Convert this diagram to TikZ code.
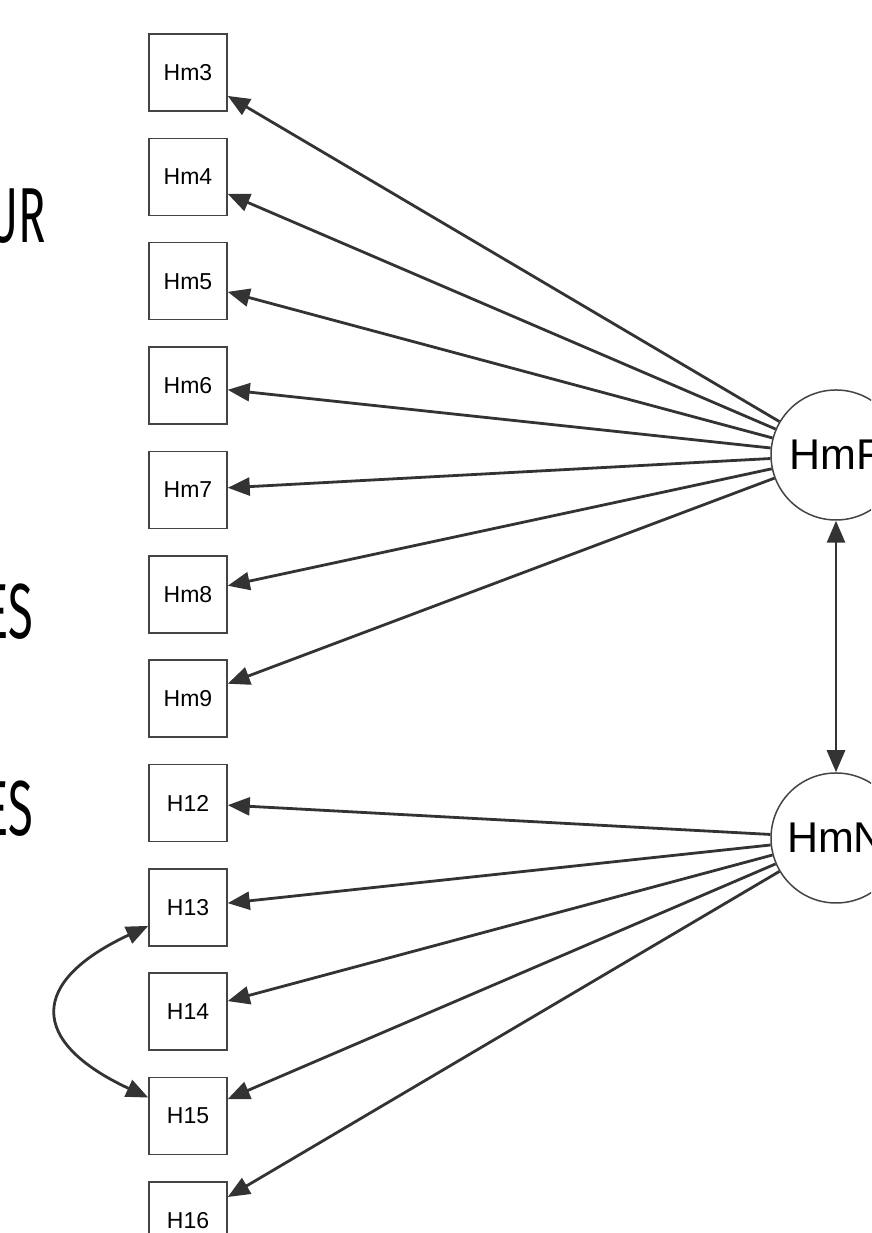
\documentclass[tikz,border=0pt]{standalone}
\usepackage{fontspec}
\setmainfont{Liberation Sans}
\newfontfamily\thinfont{Fira Sans}
\usetikzlibrary{arrows.meta}
\definecolor{edgecol}{HTML}{333333}
\definecolor{bordercol}{HTML}{444444}
\tikzset{
  obsbox/.style={draw=bordercol, line width=1.5pt, fill=white, minimum width=78pt, minimum height=77pt, inner sep=0pt, font=\fontsize{23}{27}\selectfont},
  latent/.style={draw=bordercol, circle, line width=1.5pt, fill=white, minimum size=130pt, inner sep=0pt, font=\fontsize{43}{50}\selectfont},
  load/.style={draw=edgecol, line width=2.8pt, -{Triangle[length=22pt,width=18pt]}, color=edgecol},
  cov/.style={draw=edgecol, line width=2.8pt, {Triangle[length=22pt,width=18pt]}-{Triangle[length=22pt,width=18pt]}, color=edgecol},
  sidetext/.style={anchor=base east, inner sep=0pt, font=\thinfont\fontsize{78}{80}\selectfont}
}
\begin{document}
\begin{tikzpicture}[x=1pt,y=1pt]
\useasboundingbox (0,0) rectangle (871,1233);
\fill[white] (0,0) rectangle (871,1233);
\clip (0,0) rectangle (871,1233);
% side texts
\node[sidetext] (t1) at (46,990) {\scalebox{0.58}[1]{UR}};
\node[sidetext] (t2) at (33,594) {\scalebox{0.58}[1]{ES}};
\node[sidetext] (t3) at (33,397) {\scalebox{0.58}[1]{ES}};
% latent variables
\node[latent] (HmF) at (836,778) {HmF};
\node[latent] (HmN) at (836,395) {HmN};
% observed boxes
\foreach \n/\k in {Hm3/0,Hm4/1,Hm5/2,Hm6/3,Hm7/4,Hm8/5,Hm9/6,H12/7,H13/8,H14/9,H15/10,H16/11}{
  \node[obsbox] (\n) at (188,{1160.5-104.36*\k}) {\n};
}
% loadings
\foreach \n in {Hm3,Hm4,Hm5,Hm6,Hm7,Hm8,Hm9}{
  \draw[load] (HmF) -- (\n);
}
\foreach \n in {H12,H13,H14,H15,H16}{
  \draw[load] (HmN) -- (\n);
}
% covariances
\draw[cov] (HmF) -- (HmN);
\draw[cov] (H13.205) .. controls +(205:132) and +(155:132) .. (H15.155);
\end{tikzpicture}
\end{document}
